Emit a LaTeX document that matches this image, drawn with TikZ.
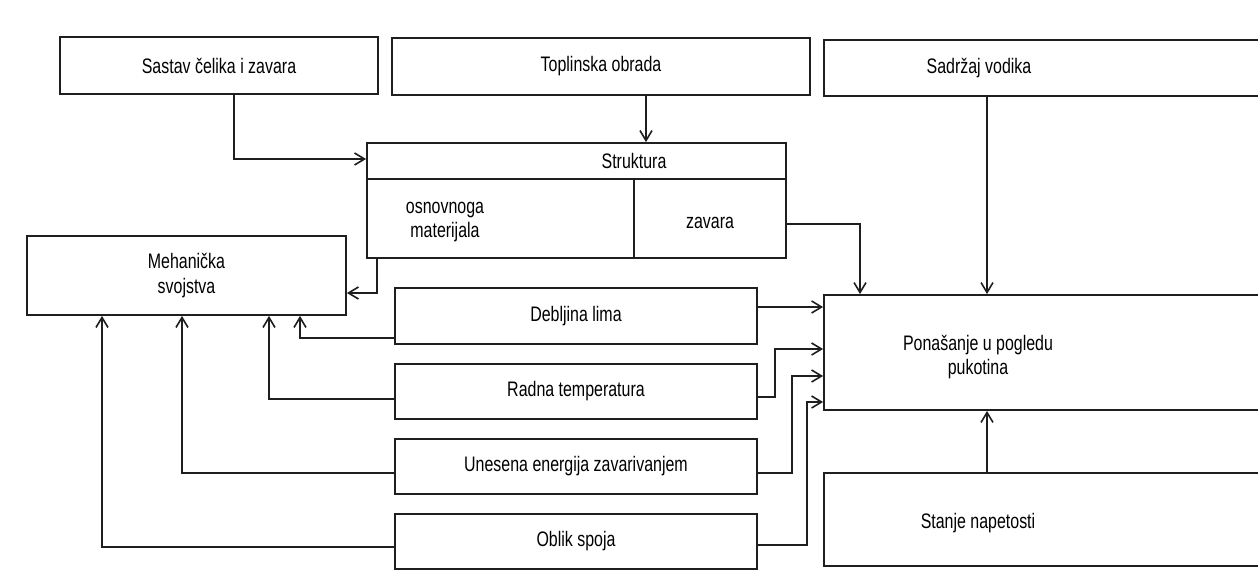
\documentclass[tikz,border=0pt]{standalone}
\usepackage{fontspec}
\setmainfont[FakeStretch=0.76]{Liberation Sans}
\usetikzlibrary{arrows.meta}
\begin{document}
\begin{tikzpicture}[x=0.5pt,y=-0.5pt,
  every node/.style={font=\fontsize{10.5}{12.2}\selectfont, align=center},
  box/.style={draw=black!88, line width=0.9pt, inner sep=0pt},
  lbl/.style={inner sep=0pt},
  link/.style={draw=black!88, line width=0.8pt},
  arr/.style={link, -{Straight Barb[length=5pt,width=6pt]}}]
\useasboundingbox (0,0) rectangle (1258,588);
\clip (0,0) rectangle (1258,588);
% boxes
\node[box, minimum width=159pt, minimum height=28.5pt] (sastav) at (219,65.5) {Sastav čelika i zavara};
\node[box, minimum width=209pt, minimum height=28.5pt] (topl) at (601,66.5) {Toplinska obrada};
\node[box, minimum width=228pt, minimum height=28pt] (sadr) at (1052,68) {};
\node[lbl] (sadrl) at (979,68) {Sadržaj vodika};
\node[box, minimum width=209.5pt, minimum height=57.5pt] (struct) at (576.5,200.5) {};
\draw[box] (struct.west |- 0,179) -- (struct.east |- 0,179);
\draw[box] (634,179) -- (634,0 |- struct.south);
\node[lbl] (structl) at (634,161) {Struktura};
\node[lbl] (osn) at (445,222) {osnovnoga\\materijala};
\node[lbl] (zav) at (710,223) {zavara};
\node[box, minimum width=159.5pt, minimum height=39.5pt] (mech) at (186.5,275.5) {Mehanička\\svojstva};
\node[box, minimum width=181pt, minimum height=28pt] (deb) at (576,316) {Debljina lima};
\node[box, minimum width=181pt, minimum height=27.5pt] (radna) at (576,391.5) {Radna temperatura};
\node[box, minimum width=181pt, minimum height=27.5pt] (unes) at (576,466.5) {Unesena energija zavarivanjem};
\node[box, minimum width=181pt, minimum height=27.5pt] (oblik) at (576,541.5) {Oblik spoja};
\node[box, minimum width=228pt, minimum height=57.5pt] (pon) at (1052,352.5) {};
\node[lbl] (ponl) at (978,357) {Ponašanje u pogledu\\pukotina};
\node[box, minimum width=228pt, minimum height=46.5pt] (stanje) at (1052,519.5) {};
\node[lbl] (stanjel) at (978,523) {Stanje napetosti};
% connectors
\draw[arr] (234,0 |- sastav.south) |- (struct.west |- 0,159);
\draw[arr] (646,0 |- topl.south) -- (646,0 |- struct.north);
\draw[arr] (987,0 |- sadr.south) -- (987,0 |- pon.north);
\draw[arr] (struct.east |- 0,224) -| (860,0 |- pon.north);
\draw[arr] (377,0 |- struct.south) |- (mech.east |- 0,293);
\draw[arr] (deb.west |- 0,338) -| (300,0 |- mech.south);
\draw[arr] (deb.east |- 0,307) -- (pon.west |- 0,307);
\draw[arr] (radna.west |- 0,399) -| (269,0 |- mech.south);
\draw[arr] (radna.east |- 0,397) -| (775,349) -- (pon.west |- 0,349);
\draw[arr] (unes.west |- 0,473) -| (182,0 |- mech.south);
\draw[arr] (unes.east |- 0,473) -| (792,376) -- (pon.west |- 0,376);
\draw[arr] (oblik.west |- 0,547) -| (102,0 |- mech.south);
\draw[arr] (oblik.east |- 0,545) -| (807,402) -- (pon.west |- 0,402);
\draw[arr] (987,0 |- stanje.north) -- (987,0 |- pon.south);
\end{tikzpicture}
\end{document}
